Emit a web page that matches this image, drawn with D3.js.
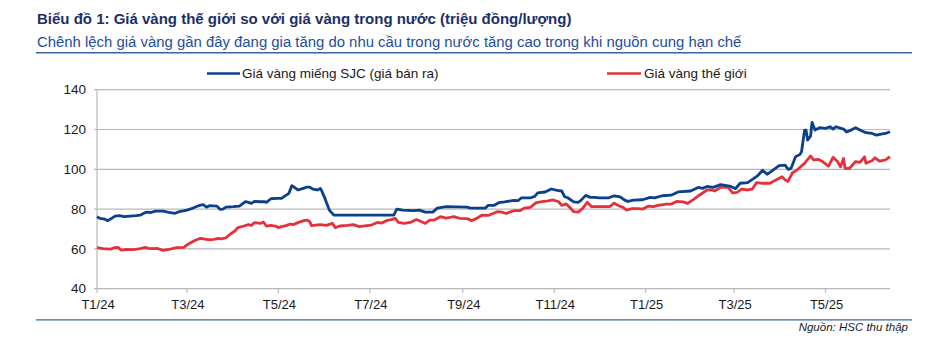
<!DOCTYPE html>
<html>
<head>
<meta charset="utf-8">
<script src="https://cdn.jsdelivr.net/npm/d3@7"></script>
<style>
  html, body { margin: 0; padding: 0; background: #ffffff; }
  svg { display: block; font-family: "Liberation Sans", Arial, sans-serif; }
</style>
</head>
<body>
<svg id="chart" width="932" height="342"></svg>
<script>
// ---------- DATA ----------
const titleText = "Biểu đồ 1: Giá vàng thế giới so với giá vàng trong nước (triệu đồng/lượng)";
const subtitleText = "Chênh lệch giá vàng gần đây đang gia tăng do nhu cầu trong nước tăng cao trong khi nguồn cung hạn chế";
const sourceText = "Nguồn: HSC thu thập";
const seriesNames = ["Giá vàng miếng SJC (giá bán ra)", "Giá vàng thế giới"];

const yTicks = [40, 60, 80, 100, 120, 140];
const xTickDates = ["2024-01-01","2024-03-01","2024-05-01","2024-07-01","2024-09-01","2024-11-01","2025-01-01","2025-03-01","2025-05-01"];
const xTickLabels = ["T1/24","T3/24","T5/24","T7/24","T9/24","T11/24","T1/25","T3/25","T5/25"];
const xDomain = ["2024-01-01", "2025-06-13"];

const sjcDates = [
 "2024-01-01","2024-01-03","2024-01-06","2024-01-08","2024-01-10","2024-01-13","2024-01-16","2024-01-19","2024-01-23","2024-01-27",
 "2024-01-30","2024-02-03","2024-02-06","2024-02-09","2024-02-14","2024-02-18","2024-02-22","2024-02-25","2024-03-01","2024-03-04",
 "2024-03-07","2024-03-10","2024-03-12","2024-03-14","2024-03-16","2024-03-21","2024-03-23","2024-03-25","2024-03-27","2024-04-01",
 "2024-04-05","2024-04-09","2024-04-11","2024-04-13","2024-04-15","2024-04-19","2024-04-22","2024-04-23","2024-04-26","2024-04-30",
 "2024-05-03","2024-05-05","2024-05-08","2024-05-10","2024-05-12","2024-05-14","2024-05-17","2024-05-20","2024-05-22","2024-05-24",
 "2024-05-27","2024-05-29","2024-05-30","2024-06-01","2024-06-02","2024-06-04","2024-06-07","2024-07-17","2024-07-19","2024-07-23",
 "2024-07-30","2024-08-03","2024-08-07","2024-08-12","2024-08-15","2024-08-21","2024-09-04","2024-09-06","2024-09-16","2024-09-18",
 "2024-09-22","2024-09-25","2024-09-29","2024-10-05","2024-10-08","2024-10-10","2024-10-16","2024-10-19","2024-10-21","2024-10-26",
 "2024-10-30","2024-11-03","2024-11-06","2024-11-08","2024-11-10","2024-11-14","2024-11-17","2024-11-19","2024-11-22","2024-11-25",
 "2024-11-28","2024-12-01","2024-12-07","2024-12-11","2024-12-15","2024-12-18","2024-12-20","2024-12-24","2024-12-30","2025-01-04",
 "2025-01-07","2025-01-12","2025-01-18","2025-01-23","2025-01-31","2025-02-05","2025-02-08","2025-02-11","2025-02-15","2025-02-20",
 "2025-02-26","2025-03-02","2025-03-05","2025-03-10","2025-03-14","2025-03-17","2025-03-20","2025-03-23","2025-03-27","2025-03-31",
 "2025-04-04","2025-04-06","2025-04-08","2025-04-11","2025-04-14","2025-04-15","2025-04-17","2025-04-18","2025-04-19","2025-04-21",
 "2025-04-22","2025-04-24","2025-04-27","2025-05-01","2025-05-04","2025-05-06","2025-05-08","2025-05-13","2025-05-15","2025-05-18",
 "2025-05-21","2025-05-25","2025-05-28","2025-06-01","2025-06-04","2025-06-07","2025-06-10","2025-06-13"
];
const sjcValues = [
 76.2,75.3,75.0,74.2,75.0,76.5,76.7,76.2,76.5,76.7,
 77.0,78.5,78.3,79.0,79.0,78.4,77.9,78.7,79.5,80.2,
 81.2,82.0,82.2,81.0,81.7,81.5,79.9,80.0,81.0,81.2,
 81.5,83.7,83.4,82.9,83.9,83.7,83.7,83.4,85.2,85.4,
 85.4,86.4,87.9,91.8,90.8,89.6,90.3,91.0,91.0,90.0,
 89.6,90.4,89.0,85.5,83.5,79.5,77.0,77.0,80.0,79.5,
 79.2,79.5,78.5,78.5,80.5,81.2,81.0,80.5,80.5,81.9,
 81.9,83.2,83.6,84.4,84.3,85.6,85.6,86.4,88.2,88.6,
 90.1,89.4,89.1,86.2,85.7,83.6,83.4,84.5,86.9,85.9,
 85.9,85.6,85.6,86.7,86.2,84.5,83.9,84.5,84.7,85.9,
 85.6,86.7,87.0,88.7,89.1,90.9,90.4,91.4,90.9,92.3,
 91.6,90.3,93.0,93.3,95.3,97.0,99.5,97.5,99.6,101.8,
 102.1,100.0,100.5,106.3,107.5,108.8,119.7,119.7,114.7,116.7,
 123.6,119.7,120.9,120.6,121.4,120.2,121.4,120.2,118.7,119.7,
 120.9,119.4,118.4,118.0,117.2,117.7,118.0,118.9
];

const worldDates = [
 "2024-01-01","2024-01-05","2024-01-10","2024-01-13","2024-01-15","2024-01-17","2024-01-21","2024-01-25","2024-01-30","2024-02-02",
 "2024-02-05","2024-02-10","2024-02-14","2024-02-19","2024-02-23","2024-02-28","2024-03-01","2024-03-04","2024-03-07","2024-03-10",
 "2024-03-12","2024-03-15","2024-03-19","2024-03-22","2024-03-24","2024-03-27","2024-03-30","2024-04-02","2024-04-04","2024-04-08",
 "2024-04-11","2024-04-13","2024-04-15","2024-04-19","2024-04-21","2024-04-23","2024-04-26","2024-04-29","2024-05-01","2024-05-03",
 "2024-05-06","2024-05-09","2024-05-11","2024-05-14","2024-05-18","2024-05-20","2024-05-22","2024-05-23","2024-05-29","2024-06-02",
 "2024-06-06","2024-06-08","2024-06-11","2024-06-16","2024-06-20","2024-06-24","2024-06-29","2024-07-02","2024-07-06","2024-07-09",
 "2024-07-12","2024-07-16","2024-07-18","2024-07-20","2024-07-24","2024-07-28","2024-08-01","2024-08-05","2024-08-07","2024-08-10",
 "2024-08-13","2024-08-17","2024-08-21","2024-08-26","2024-08-30","2024-09-04","2024-09-07","2024-09-10","2024-09-14","2024-09-18",
 "2024-09-24","2024-09-27","2024-09-30","2024-10-05","2024-10-09","2024-10-12","2024-10-16","2024-10-20","2024-10-25","2024-10-28",
 "2024-10-31","2024-11-04","2024-11-06","2024-11-09","2024-11-11","2024-11-14","2024-11-17","2024-11-20","2024-11-23","2024-11-26",
 "2024-12-08","2024-12-11","2024-12-14","2024-12-17","2024-12-19","2024-12-23","2024-12-27","2024-12-30","2025-01-03","2025-01-06",
 "2025-01-10","2025-01-15","2025-01-18","2025-01-22","2025-01-26","2025-01-29","2025-02-02","2025-02-06","2025-02-11","2025-02-14",
 "2025-02-16","2025-02-20","2025-02-25","2025-02-28","2025-03-03","2025-03-06","2025-03-10","2025-03-13","2025-03-16","2025-03-19",
 "2025-03-25","2025-03-28","2025-04-02","2025-04-04","2025-04-06","2025-04-09","2025-04-12","2025-04-14","2025-04-17","2025-04-21",
 "2025-04-23","2025-04-26","2025-04-29","2025-05-03","2025-05-06","2025-05-09","2025-05-11","2025-05-13","2025-05-14","2025-05-17",
 "2025-05-21","2025-05-24","2025-05-27","2025-05-28","2025-06-01","2025-06-03","2025-06-06","2025-06-10","2025-06-13"
];
const worldValues = [
 60.6,60.1,59.9,60.6,60.8,59.4,59.8,59.6,60.1,60.8,
 60.1,60.3,59.3,59.9,60.6,60.8,62.0,63.3,64.5,65.3,
 65.0,64.6,64.8,65.3,65.0,65.6,67.5,69.0,70.7,71.5,
 72.2,71.8,73.2,72.8,73.5,71.5,71.8,71.5,70.7,71.2,
 71.7,72.5,72.2,73.2,74.2,74.5,73.7,71.7,72.2,71.8,
 72.8,70.7,71.5,71.8,72.2,71.2,71.7,72.0,73.3,73.0,
 74.2,74.8,75.3,73.3,72.8,73.3,74.8,73.5,72.8,74.5,
 74.5,76.2,75.5,76.2,75.3,75.2,74.2,75.2,77.0,76.8,
 78.7,78.5,77.8,79.2,79.2,80.5,80.9,83.2,83.9,84.1,
 84.6,83.7,81.9,82.6,81.2,78.7,78.5,80.4,83.4,81.2,
 81.2,83.0,81.7,80.9,79.5,80.2,80.2,80.0,81.5,81.2,
 82.0,82.5,82.5,83.9,83.6,82.9,84.9,87.1,89.6,89.6,
 89.1,90.9,90.9,88.2,88.4,90.0,89.6,90.0,93.3,93.0,
 93.0,94.3,96.3,94.7,93.9,98.3,99.6,101.0,103.0,106.7,
 104.7,105.0,103.9,101.6,106.0,103.9,101.3,105.5,100.5,100.5,
 103.9,103.5,106.3,103.0,104.3,105.8,104.1,104.7,106.3
];

// ---------- DRAW ----------
const parse = d3.timeParse("%Y-%m-%d");
const svg = d3.select("#chart");
const plot = { left: 97, right: 890, top: 89.7, bottom: 288.7 };

const x = d3.scaleTime().domain(xDomain.map(parse)).range([plot.left, plot.right]);
const y = d3.scaleLinear().domain([40, 140]).range([plot.bottom, plot.top]);

const blue = "#0c3f8c";
const red = "#e5313b";
const grid = "#b9b9b9";

// Title & subtitle
svg.append("text").attr("x", 37).attr("y", 24)
  .attr("font-size", 15).attr("font-weight", "bold").attr("fill", "#1b2f6a")
  .text(titleText);
svg.append("text").attr("x", 37).attr("y", 46.5)
  .attr("font-size", 14.9).attr("fill", "#1f4e9e")
  .text(subtitleText);
svg.append("line").attr("x1", 36).attr("x2", 912).attr("y1", 52.8).attr("y2", 52.8)
  .attr("stroke", "#3c64a0").attr("stroke-width", 1.6);

// Gridlines
svg.append("g").selectAll("line").data(yTicks).join("line")
  .attr("x1", plot.left - 3).attr("x2", plot.right)
  .attr("y1", d => y(d)).attr("y2", d => y(d))
  .attr("stroke", grid).attr("stroke-width", 1.2);

// Left axis line
svg.append("line").attr("x1", plot.left).attr("x2", plot.left)
  .attr("y1", plot.top).attr("y2", plot.bottom)
  .attr("stroke", grid).attr("stroke-width", 1.2);

// Y labels
svg.append("g").selectAll("text").data(yTicks).join("text")
  .attr("x", 86).attr("y", d => y(d) + 4.6)
  .attr("text-anchor", "end").attr("font-size", 13.5).attr("fill", "#1a1a1a")
  .text(d => d);

// X ticks & labels
const xt = xTickDates.map(parse);
svg.append("g").selectAll("line").data(xt).join("line")
  .attr("x1", d => x(d)).attr("x2", d => x(d))
  .attr("y1", plot.bottom).attr("y2", plot.bottom + 4)
  .attr("stroke", grid).attr("stroke-width", 1.2);
svg.append("g").selectAll("text").data(xt).join("text")
  .attr("x", d => x(d) + 1).attr("y", 309)
  .attr("text-anchor", "middle").attr("font-size", 13).attr("fill", "#1a1a1a")
  .text((d, i) => xTickLabels[i]);

// Lines
const line = d3.line().x(d => x(d[0])).y(d => y(d[1]));
const sjc = sjcDates.map((d, i) => [parse(d), sjcValues[i]]);
const world = worldDates.map((d, i) => [parse(d), worldValues[i]]);

svg.append("path").datum(world).attr("d", line)
  .attr("fill", "none").attr("stroke", red).attr("stroke-width", 2.8)
  .attr("stroke-linejoin", "round");
svg.append("path").datum(sjc).attr("d", line)
  .attr("fill", "none").attr("stroke", blue).attr("stroke-width", 2.8)
  .attr("stroke-linejoin", "round");

// Legend
const legend = [
  { x1: 207, x2: 240, tx: 242, color: blue, name: seriesNames[0] },
  { x1: 607, x2: 641, tx: 644, color: red, name: seriesNames[1] }
];
const lg = svg.append("g").selectAll("g").data(legend).join("g");
lg.append("line").attr("x1", d => d.x1).attr("x2", d => d.x2)
  .attr("y1", 73.5).attr("y2", 73.5)
  .attr("stroke", d => d.color).attr("stroke-width", 2.6);
lg.append("text").attr("x", d => d.tx).attr("y", 77.5)
  .attr("font-size", 13.5).attr("fill", "#1a1a1a")
  .text(d => d.name);

// Bottom rule & source
svg.append("line").attr("x1", 36).attr("x2", 912).attr("y1", 319.8).attr("y2", 319.8)
  .attr("stroke", "#3c64a0").attr("stroke-width", 1.3);
svg.append("text").attr("x", 908).attr("y", 330.5)
  .attr("text-anchor", "end").attr("font-size", 11.5).attr("font-style", "italic")
  .attr("fill", "#1a1a1a").text(sourceText);
</script>
</body>
</html>
